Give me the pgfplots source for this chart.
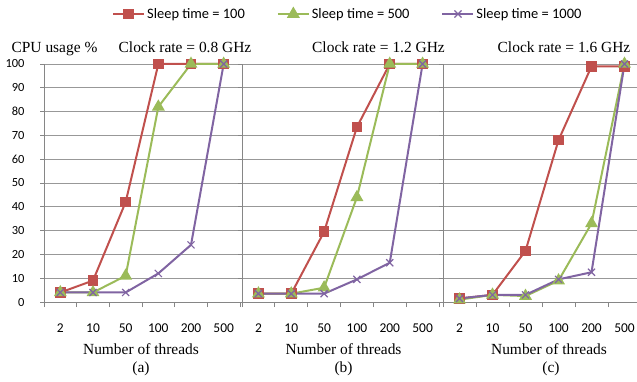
\documentclass[border=0pt]{standalone}
\usepackage{fontspec}
\setmainfont{Liberation Serif}
\newfontfamily\calibri{Carlito}
\usepackage{pgfplots}
\pgfplotsset{compat=1.18}
\definecolor{cred}{HTML}{C0504D}
\definecolor{cgreen}{HTML}{9BBB59}
\definecolor{cpurple}{HTML}{8064A2}
\definecolor{gridgray}{HTML}{989898}
\definecolor{axgray}{HTML}{868686}
\pgfplotsset{
  panel/.style={
    scale only axis, height=238bp,
    xmin=0.5, xmax=6.5, ymin=0, ymax=100,
    clip=false,
    axis x line*=bottom, axis y line*=left,
    axis line style={axgray, line width=0.8bp},
    tick align=outside,
    major tick length=4bp,
    minor tick length=5bp,
    xtick={1,...,6}, xticklabels={2,10,50,100,200,500},
    major x tick style={draw=none},
    minor xtick={0.5,1.5,...,6.5},
    minor x tick style={axgray, line width=0.8bp},
    ytick={0,10,...,100},
    y tick style={axgray, line width=0.8bp},
    ymajorgrids,
    y grid style={gridgray, line width=0.7bp},
    xticklabel style={font=\calibri\fontsize{13.5}{14}\selectfont, yshift=-14bp},
    yticklabel style={font=\calibri\fontsize{12.5}{13}\selectfont, xshift=-12bp},
    /pgf/number format/assume math mode=true,
  },
  sred/.style={cred, line width=2bp, mark=square*, mark size=4.3bp, mark options={solid, fill=cred}},
  sgreen/.style={cgreen, line width=2bp, mark=triangle*, mark size=5.5bp, mark options={solid, fill=cgreen}},
  spurple/.style={cpurple, line width=2bp, mark=x, mark size=5bp, mark options={solid, line width=1.2bp}},
}
\begin{document}
\begin{tikzpicture}[x=1bp,y=1bp]
\path[use as bounding box] (0,0) rectangle (637,381);

% Panel (a)
\begin{axis}[panel, width=196bp, at={(44bp,79bp)}, anchor=south west,
  legend columns=3,
  legend style={draw=none, fill=none, at={(axis description cs:0.347,1.21)}, anchor=west,
    inner sep=0pt, font=\calibri\fontsize{14.5}{15}\selectfont,
    /tikz/every even column/.append style={column sep=30bp}},
  legend cell align=left,
  legend image code/.code={\draw[mark repeat=2,mark phase=2] plot coordinates {(0bp,0bp)(15.5bp,0bp)(31bp,0bp)};},
]
\addplot[sred] coordinates {(1,4)(2,9)(3,42)(4,100)(5,100)(6,100)};
\addplot[sgreen] coordinates {(1,4)(2,4)(3,11)(4,82)(5,100)(6,100)};
\addplot[spurple] coordinates {(1,4)(2,4)(3,4)(4,12)(5,24)(6,100)};
\legend{Sleep time = 100, Sleep time = 500, Sleep time = 1000}
\end{axis}

% Panel (b)
\begin{axis}[panel, width=197bp, at={(242bp,79bp)}, anchor=south west, yticklabels={}]
\addplot[sred] coordinates {(1,3.5)(2,3.5)(3,29.5)(4,73.5)(5,100)(6,100)};
\addplot[sgreen] coordinates {(1,3.5)(2,3.5)(3,6)(4,44)(5,100)(6,100)};
\addplot[spurple] coordinates {(1,3.5)(2,3.5)(3,3.5)(4,9.5)(5,16.5)(6,100)};
\end{axis}

% Panel (c)
\begin{axis}[panel, width=198bp, at={(443bp,79bp)}, anchor=south west, yticklabels={}]
\addplot[sred] coordinates {(1,1.5)(2,3)(3,21.5)(4,68)(5,99)(6,99)};
\addplot[sgreen] coordinates {(1,1)(2,3)(3,2.5)(4,9)(5,33)(6,100)};
\addplot[spurple] coordinates {(1,1.5)(2,3)(3,3)(4,9.5)(5,12.5)(6,100)};
\end{axis}

\begin{scope}[every node/.style={font=\fontsize{15.5}{16}\selectfont, inner sep=0pt, anchor=base}]
\node at (54.5,328.3) {CPU usage \%};
\node at (185,328.3) {Clock rate = 0.8 GHz};
\node at (378.5,328.3) {Clock rate = 1.2 GHz};
\node at (564,328.3) {Clock rate = 1.6 GHz};
\node at (141,26.3) {Number of threads};
\node at (343.6,26.3) {Number of threads};
\node at (549,26.3) {Number of threads};
\node at (141,8.5) {(a)};
\node at (343.6,8.5) {(b)};
\node at (551,8.5) {(c)};
\end{scope}
\end{tikzpicture}
\end{document}
